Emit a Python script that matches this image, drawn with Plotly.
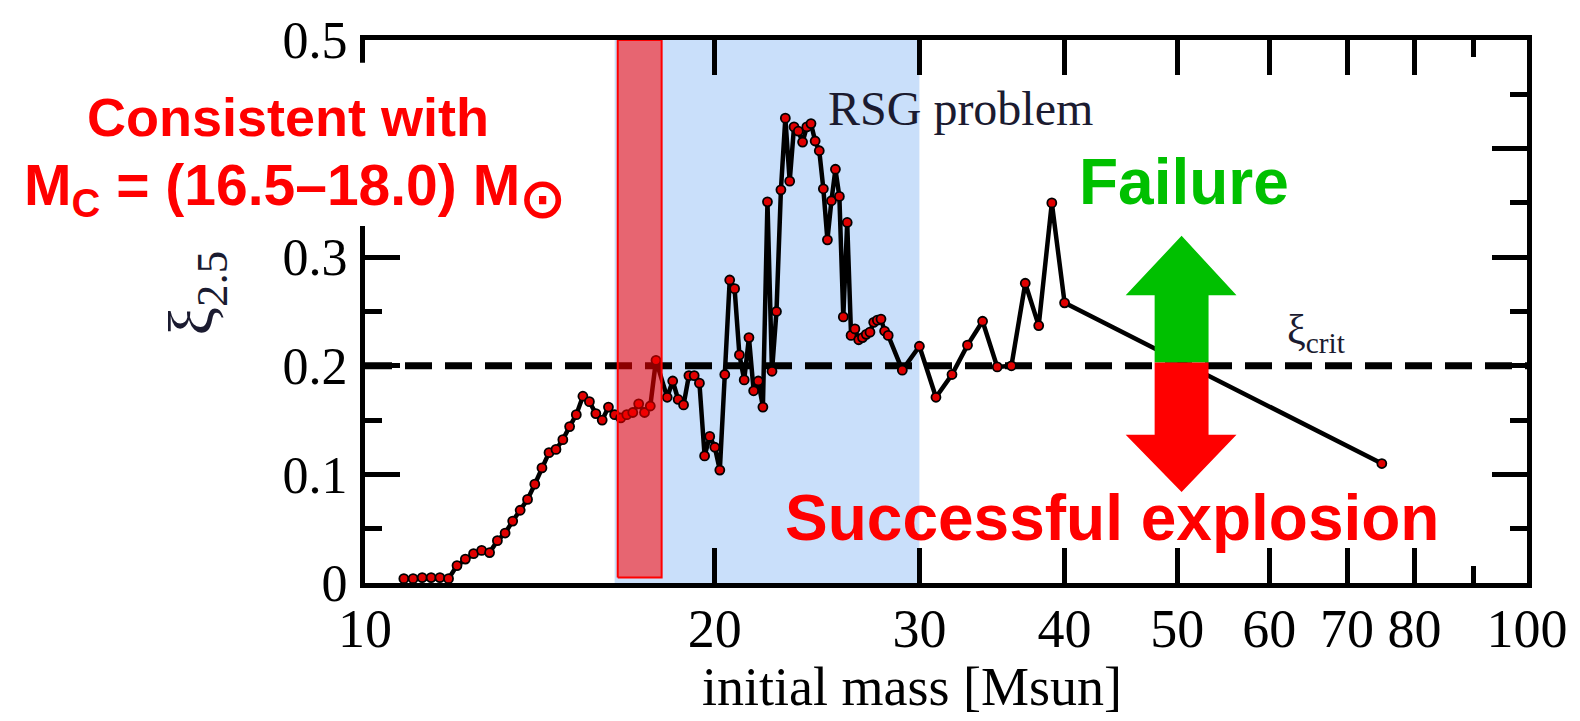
import plotly.graph_objects as go

# ---- data -------------------------------------------------------------
mass = [10.8, 11.0, 11.2, 11.4, 11.6, 11.8, 12.0, 12.2, 12.4, 12.6, 12.8,
        13.0, 13.2, 13.4, 13.6, 13.8, 14.0, 14.2, 14.4, 14.6, 14.8, 15.0,
        15.2, 15.4, 15.6, 15.8, 16.0, 16.2, 16.4, 16.6, 16.8, 17.0, 17.2,
        17.4, 17.6, 17.8, 18.2, 18.4, 18.6, 18.8, 19.0, 19.2, 19.4, 19.6,
        19.8, 20.0, 20.2, 20.4, 20.6, 20.8, 21.0, 21.2, 21.4, 21.6, 21.8,
        22.0, 22.2, 22.4, 22.6, 22.8, 23.0, 23.2, 23.4, 23.6, 23.8, 24.0,
        24.2, 24.4, 24.6, 24.8, 25.0, 25.2, 25.4, 25.6, 25.8, 26.0, 26.2,
        26.4, 26.6, 26.8, 27.0, 27.2, 27.4, 27.6, 27.8, 28.0, 28.2, 29.0,
        30.0, 31.0, 32.0, 33.0, 34.0, 35.0, 36.0, 37.0, 38.0, 39.0, 40.0,
        75.0]
xi25 = [0.004, 0.004, 0.005, 0.005, 0.005, 0.004, 0.016, 0.022, 0.027, 0.030, 0.028,
        0.039, 0.046, 0.057, 0.067, 0.077, 0.091, 0.106, 0.120, 0.123, 0.132, 0.144,
        0.155, 0.172, 0.167, 0.156, 0.150, 0.162, 0.155, 0.152, 0.155, 0.157, 0.165,
        0.157, 0.163, 0.205, 0.171, 0.186, 0.169, 0.164, 0.191, 0.191, 0.184, 0.117,
        0.135, 0.125, 0.104, 0.192, 0.279, 0.271, 0.210, 0.187, 0.226, 0.177, 0.186,
        0.162, 0.351, 0.195, 0.250, 0.362, 0.428, 0.370, 0.420, 0.416, 0.406, 0.420,
        0.423, 0.407, 0.398, 0.363, 0.316, 0.352, 0.381, 0.356, 0.245, 0.332, 0.228,
        0.234, 0.224, 0.226, 0.229, 0.231, 0.240, 0.242, 0.243, 0.232, 0.228, 0.196,
        0.218, 0.171, 0.192, 0.219, 0.241, 0.199, 0.200, 0.276, 0.237, 0.350, 0.258,
        0.110]

xi_crit = 0.2
consistent_range = [16.5, 18.0]
rsg_range = [16.4, 30.0]
x_ticks = [10, 20, 30, 40, 50, 60, 70, 80, 100]
x_ticktext = ["10", "20", "30", "40", "50", "60", "70", "80", "100"]
x_minor = [90]
y_ticks = [0, 0.1, 0.2, 0.3, 0.4, 0.5]
y_ticktext = ["0", "0.1", "0.2", "0.3", "0.4", "0.5"]

# ---- geometry ---------------------------------------------------------
W, H = 1580, 721
ML, MR, MT, MB = 365, 51, 34, 138
PW, PH = W - ML - MR, H - MT - MB


def px(x):
    return (x - ML) / PW


def py(y):
    return (H - MB - y) / PH


fig = go.Figure()

# RSG problem band
fig.add_trace(go.Scatter(
    x=[rsg_range[0], rsg_range[1], rsg_range[1], rsg_range[0]],
    y=[0, 0, 0.5, 0.5], fill="toself", fillcolor="#C9DFFA",
    mode="lines", line=dict(width=0), hoverinfo="skip", showlegend=False))

# xi_crit dashed line
fig.add_trace(go.Scatter(
    x=[10, 100], y=[xi_crit, xi_crit], mode="lines",
    line=dict(color="black", width=7, dash="27px,13px"),
    hoverinfo="skip", showlegend=False))

# compactness curve
fig.add_trace(go.Scatter(
    x=mass, y=xi25, mode="lines+markers",
    line=dict(color="black", width=4.5),
    marker=dict(color="#E00000", size=9, line=dict(color="black", width=1.8)),
    showlegend=False))

# consistent mass band (semi transparent on top)
fig.add_trace(go.Scatter(
    x=[consistent_range[0], consistent_range[1], consistent_range[1], consistent_range[0], consistent_range[0]],
    y=[0.005, 0.005, 0.5, 0.5, 0.005], fill="toself",
    fillcolor="rgba(255,0,0,0.55)", mode="lines",
    line=dict(color="#FF0000", width=2), hoverinfo="skip", showlegend=False,
    cliponaxis=False))

shapes = []
# white box behind the red label
shapes.append(dict(type="rect", xref="paper", yref="paper",
                   x0=px(0), x1=px(586), y0=py(222), y1=py(57),
                   fillcolor="white", line=dict(width=0), layer="above"))
# double arrow
cx = 1183
green = [(cx, 232), (cx - 56, 292), (cx - 27, 292), (cx - 27, 360),
         (cx + 27, 360), (cx + 27, 292), (cx + 55, 292)]
red = [(cx - 27, 360), (cx - 27, 433), (cx - 56, 433), (cx, 491),
       (cx + 55, 433), (cx + 27, 433), (cx + 27, 360)]


def path(pts):
    return "M " + " L ".join(f"{px(a):.5f},{py(b):.5f}" for a, b in pts) + " Z"


shapes.append(dict(type="path", xref="paper", yref="paper", path=path(green),
                   fillcolor="#00C000", line=dict(width=0), layer="above"))
shapes.append(dict(type="path", xref="paper", yref="paper", path=path(red),
                   fillcolor="#FF0000", line=dict(width=0), layer="above"))

serif = "Liberation Serif, Times New Roman, serif"
sans = "Liberation Sans, Arial, sans-serif"

ann = []


def add_text(text, x, y, font, **kw):
    ann.append(dict(text=text, x=px(x), y=py(y), xref="paper", yref="paper",
                    xanchor="center", yanchor="middle", showarrow=False,
                    font=font, **kw))


add_text("RSG problem", 962, 103, dict(family=serif, size=48, color="#1b1b30"))
add_text("ξ<sub>crit</sub>", 1318, 330, dict(family=serif, size=42, color="#1b1b30"))
add_text("<b>Failure</b>", 1185, 178, dict(family=sans, size=64, color="#00C000"))
add_text("<b>Successful explosion</b>", 1113, 517, dict(family=sans, size=64, color="#FF0000"))
add_text("<b>Consistent with</b>", 288, 112, dict(family=sans, size=54, color="#FF0000"))
add_text("<b>M<sub>C</sub> = (16.5–18.0) M<sub><span style='font-size:54px'>⊙</span></sub></b>",
         294, 186, dict(family=sans, size=57, color="#FF0000"))
add_text("ξ<sub>2.5</sub>", 196, 290, dict(family=serif, size=64, color="#1b1b30"), textangle=-90)
add_text("initial mass [Msun]", 913, 688, dict(family=serif, size=54, color="black"))

fig.update_layout(
    width=W, height=H,
    margin=dict(l=ML, r=MR, t=MT, b=MB, pad=0),
    paper_bgcolor="white", plot_bgcolor="white",
    shapes=shapes, annotations=ann, showlegend=False,
    xaxis=dict(type="log", range=[1, 2], showgrid=False, zeroline=False,
               showline=True, linecolor="black", linewidth=5, mirror="allticks",
               ticks="inside", ticklen=35, tickwidth=5, tickcolor="black",
               tickvals=x_ticks, ticktext=x_ticktext, ticklabelstandoff=-6,
               tickfont=dict(family=serif, size=54, color="black"),
               minor=dict(tickmode="array", tickvals=x_minor, ticks="inside",
                          ticklen=17, tickwidth=5, tickcolor="black", showgrid=False)),
    yaxis=dict(range=[0, 0.5], showgrid=False, zeroline=False,
               showline=True, linecolor="black", linewidth=5, mirror="allticks",
               ticks="inside", ticklen=35, tickwidth=5, tickcolor="black",
               tickvals=y_ticks, ticktext=y_ticktext, ticklabelstandoff=2,
               tickfont=dict(family=serif, size=52, color="black"),
               minor=dict(dtick=0.05, ticks="inside", ticklen=17, tickwidth=5,
                          tickcolor="black", showgrid=False)),
)

fig.write_html("out.html")
